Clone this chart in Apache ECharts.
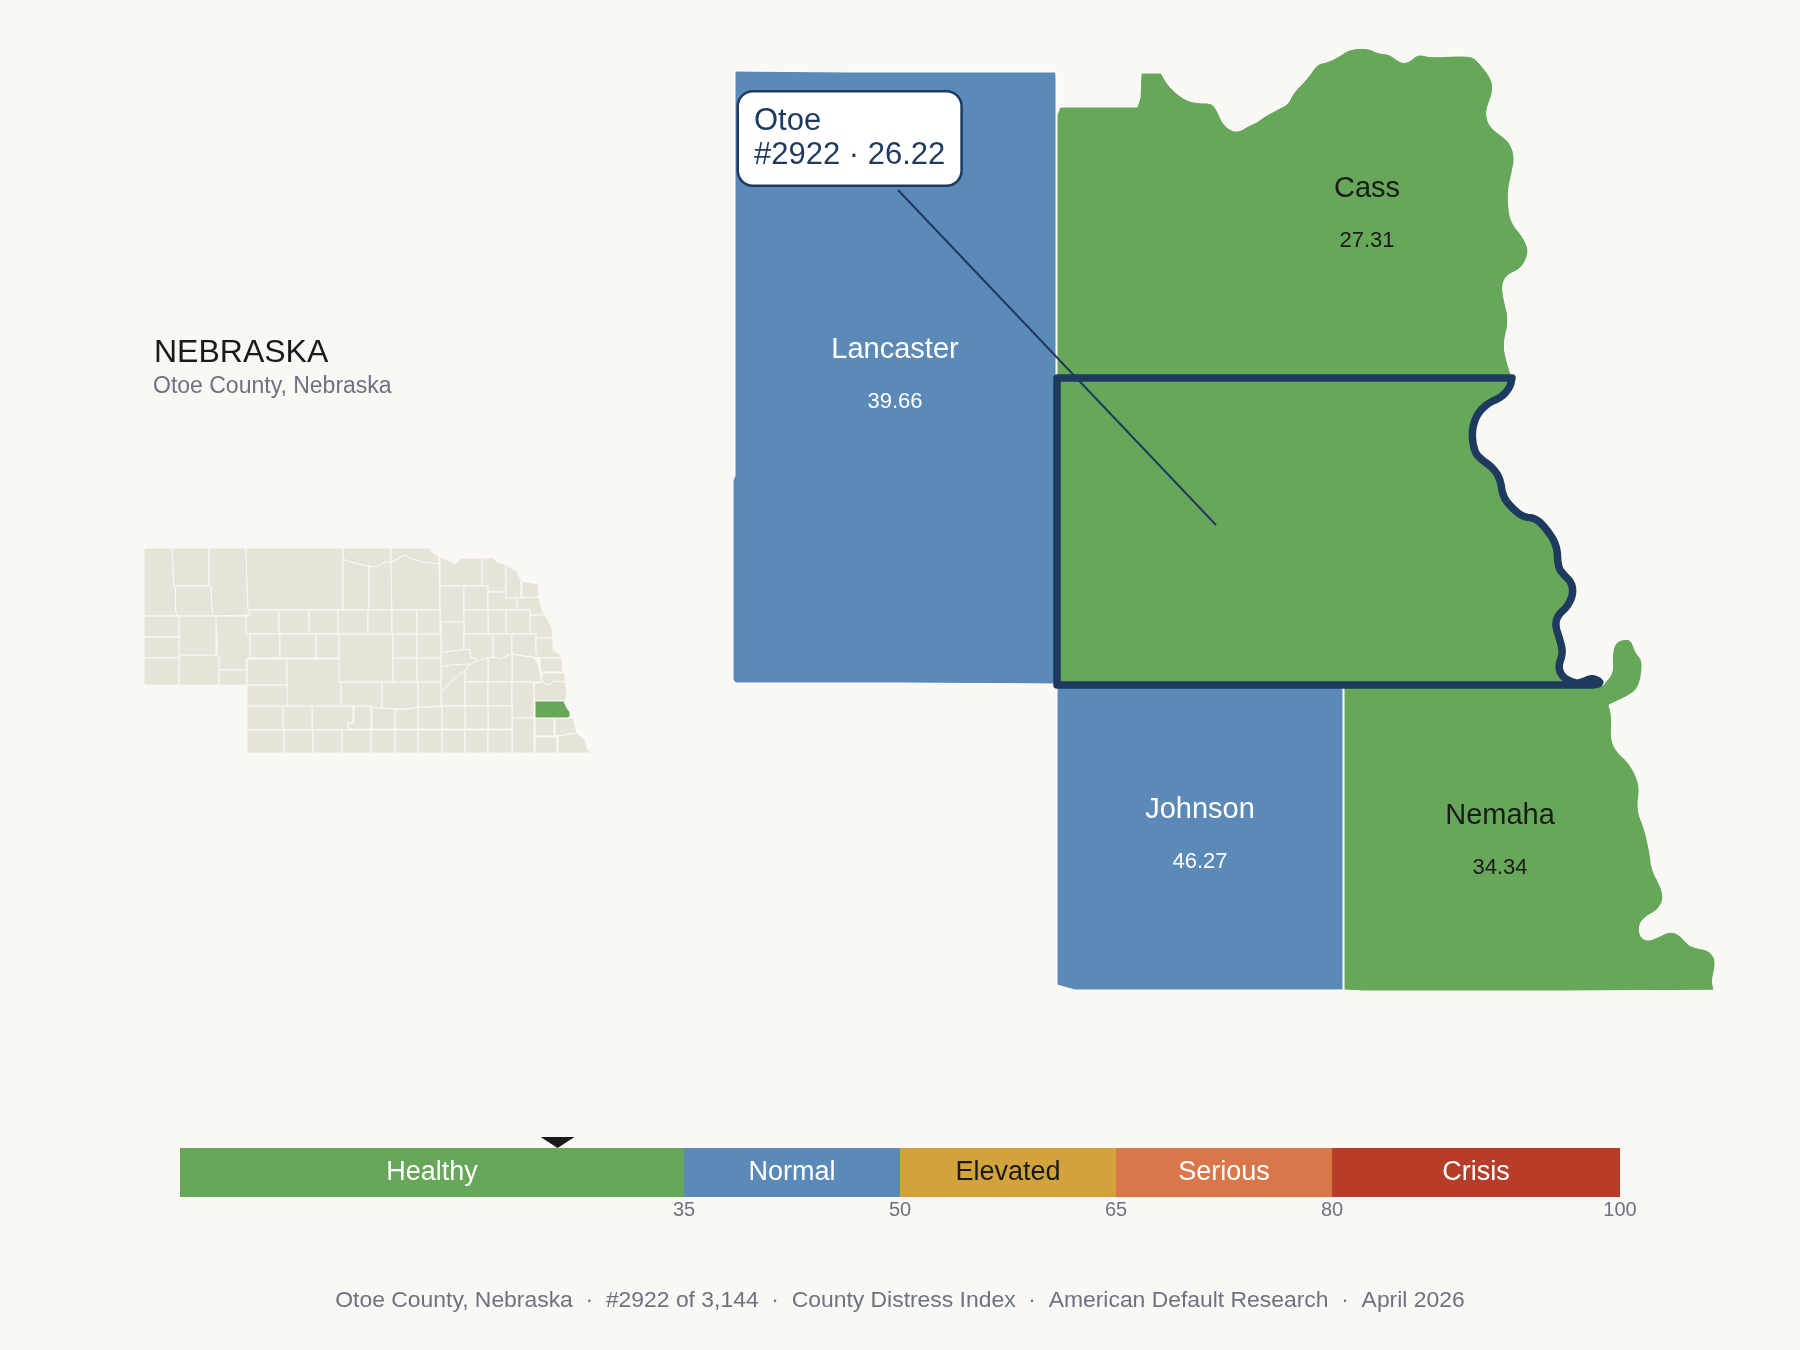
<!DOCTYPE html>
<html>
<head>
<meta charset="utf-8">
<title>Otoe County, Nebraska</title>
<script src="https://cdn.jsdelivr.net/npm/echarts@6/dist/echarts.min.js"></script>
<style>
  html, body { margin: 0; background: #FAF8F5; }
  #main { width: 1800px; height: 1350px; }
</style>
</head>
<body>
<div id="main"></div>
<script>
const GREEN = '#66A75A', BLUE = '#5B89B8', GOLD = '#D1A33A', ORANGE = '#D9774A', RED = '#B73D2A';
const NAVY = '#1E3A5F', INK = '#1A1A1A', GREY = '#6B7280', PAPER = '#FAF8F5', SAND = '#E8E3D8';
const FONT = '"Liberation Sans", Arial, sans-serif';

// index bands
const bandNames = ['Healthy', 'Normal', 'Elevated', 'Serious', 'Crisis'];
const bandSpans = [35, 15, 15, 15, 20];
const bandTicks = [35, 50, 65, 80, 100];
const bandColors = [GREEN, BLUE, GOLD, ORANGE, RED];
const bandTextColors = ['#fff', '#fff', INK, '#fff', '#fff'];

// selected county and its neighbours
const countyNames = ['Lancaster', 'Cass', 'Johnson', 'Nemaha', 'Otoe'];
const countyScores = [39.66, 27.31, 46.27, 34.34, 26.22];
const countyLabelAt = [[895, 376], [1367, 215], [1200, 836], [1500, 842]];
const otoeRank = 2922;
const calloutFrom = [1216, 525];
const calloutTo = [898, 190];
const calloutBoxAt = [739, 138.5];

// outlines, traced in map units; the river banks get rounded off below
const cassBank = [[1161, 73], [1168, 85], [1177, 94], [1188, 101], [1200, 103], [1212, 103], [1218, 112], [1223, 124], [1232, 131], [1240, 131], [1248, 126], [1257, 122], [1265, 116], [1280, 108], [1288, 104], [1293, 93], [1307, 79], [1317, 64], [1327, 62], [1338, 57], [1348, 50], [1360, 48], [1370, 49], [1378, 53], [1389, 54], [1397, 60], [1403, 63], [1410, 61], [1417, 55], [1423, 55], [1430, 57], [1453, 56], [1470, 56], [1477, 60], [1492, 79], [1493, 92], [1488, 105], [1486, 115], [1490, 127], [1502, 136], [1510, 143], [1515, 157], [1512, 173], [1508, 190], [1509, 213], [1513, 225], [1523, 237], [1529, 250], [1525, 263], [1517, 271], [1507, 275], [1502, 285], [1504, 300], [1509, 320], [1504, 342], [1505, 355], [1512, 378]];
const otoeBank = [[1512, 378], [1510, 387], [1502, 397], [1488, 403], [1478, 413], [1473, 425], [1472, 438], [1475, 453], [1482, 460], [1492, 467], [1500, 478], [1503, 497], [1512, 508], [1523, 517], [1535, 518], [1545, 527], [1557, 545], [1558, 567], [1563, 574], [1572, 583], [1573, 595], [1567, 607], [1558, 615], [1555, 625], [1560, 640], [1563, 653], [1558, 667], [1563, 678], [1577, 684], [1587, 680], [1593, 678], [1602, 683], [1593, 685]];
const nemahaHook = [[1603, 685], [1613, 673], [1612, 658], [1614, 645], [1620, 640], [1628, 639], [1632, 642], [1636, 653], [1642, 660], [1642, 673], [1638, 688], [1630, 695], [1609, 705]];
const nemahaBank = [[1609, 705], [1612, 717], [1611, 740], [1617, 752], [1627, 761], [1635, 773], [1640, 788], [1637, 810], [1645, 830], [1650, 853], [1652, 870], [1660, 885], [1664, 898], [1658, 910], [1645, 917], [1639, 925], [1640, 937], [1648, 941], [1658, 937], [1670, 931], [1680, 935], [1688, 945], [1697, 948], [1708, 950], [1715, 958], [1715, 968], [1712, 980], [1714, 991]];

// corner cutting, keeps the two end points of a run
function roundRun(run, passes) {
  let pts = run;
  for (let p = 0; p < passes; p++) {
    const next = [pts[0]];
    for (let i = 0; i < pts.length - 1; i++) {
      const a = pts[i], b = pts[i + 1];
      next.push([a[0] * 0.75 + b[0] * 0.25, a[1] * 0.75 + b[1] * 0.25]);
      next.push([a[0] * 0.25 + b[0] * 0.75, a[1] * 0.25 + b[1] * 0.75]);
    }
    next.push(pts[pts.length - 1]);
    pts = next;
  }
  return pts;
}

const lancasterRing = [[735, 71], [850, 72], [1055, 72], [1056, 75], [1056, 684], [900, 683], [736, 683], [733, 680], [733, 480], [735, 476]];
const cassRing = [[1060, 107], [1137, 107], [1140, 98], [1141, 73]].concat(roundRun(cassBank, 2), [[1057, 378], [1057, 115]]);
const johnsonRing = [[1057, 685], [1343, 685], [1343, 990], [1075, 990], [1057, 985]];
const nemahaRing = [[1344, 685]].concat(roundRun(nemahaHook, 2), roundRun(nemahaBank, 2), [[1563, 991], [1363, 991], [1344, 990]]);
const otoeRing = [[1057, 378]].concat(roundRun(otoeBank, 2), [[1057, 685]]);
const areaRings = [lancasterRing, cassRing, johnsonRing, nemahaRing, otoeRing];

const box = (x0, y0, x1, y1) => [[x0, y0], [x1, y0], [x1, y1], [x0, y1]];

// state inset, all 93 counties
const stateCounties = [
  ['Sioux', [[144, 548], [172, 548], [173, 564], [173.5, 586], [175.5, 586], [175.5, 610], [177.5, 616], [144, 616]]],
  ['Dawes', [[172, 548], [209, 548], [209, 586], [173.5, 586], [173, 564]]],
  ['Box Butte', [[175.5, 586], [211, 586], [212, 610], [213.5, 616], [177.5, 616], [175.5, 610]]],
  ['Sheridan', [[209, 548], [246, 548], [246.5, 563], [247, 586], [248, 610], [249.5, 610], [249.5, 615], [213.5, 616], [212, 610], [211, 586], [209, 586]]],
  ['Cherry', [[246, 548], [343, 548], [343, 610], [248, 610], [247, 586], [246.5, 563]]],
  ['Keya Paha', [[343, 548], [390, 548], [391, 562], [383, 563], [377, 567], [367, 566], [350, 562], [343, 559]]],
  ['Boyd', [[391, 548], [430, 548], [432, 552], [439, 557], [439, 564], [423, 562], [412, 559], [405, 555], [391, 562]]],
  ['Brown', [[343, 559], [350, 562], [367, 566], [369, 566], [369, 610], [343, 610]]],
  ['Rock', [[369, 566], [377, 567], [383, 563], [391, 562], [392, 610], [369, 610]]],
  ['Holt', [[391, 562], [405, 555], [412, 559], [423, 562], [439, 564], [440, 610], [392, 610]]],
  ['Knox', [[440, 557], [448, 560], [455, 564], [462, 558], [482, 558], [482, 586], [440, 586]]],
  ['Cedar', [[482, 558], [493, 558], [497, 562], [506, 565], [506, 592], [488, 592], [488, 586], [482, 586]]],
  ['Dixon', [[506, 565], [517, 572], [521, 580], [521, 598], [506, 598]]],
  ['Dakota', [[522, 581], [532, 583], [538, 584], [539, 597], [522, 598]]],
  ['Antelope', box(440, 586, 464, 622)], ['Pierce', box(464, 586, 488, 610)],
  ['Wayne', [[488, 592], [506, 592], [506, 598], [517, 598], [517, 610], [488, 610]]],
  ['Thurston', [[517, 598], [539, 597], [542, 610], [544, 615], [530, 615], [530, 610], [517, 610]]],
  ['Burt', [[530, 615], [544, 615], [547, 618], [552, 628], [553, 638], [536, 638], [536, 634], [530, 634]]],
  ['Cuming', box(506, 610, 530, 634)], ['Stanton', box(488, 610, 506, 634)], ['Madison', box(464, 610, 488, 634)],
  ['Boone', [[441, 622], [464, 622], [464, 650], [452, 651], [441, 653]]],
  ['Nance', [[441, 653], [452, 651], [470, 649], [471, 658], [477, 659], [477, 663], [470, 664], [452, 665], [441, 667]]],
  ['Merrick', [[441, 667], [452, 665], [470, 664], [464, 672], [453, 680], [441, 693]]],
  ['Platte', [[464, 634], [493, 634], [493, 657], [483, 659], [477, 663], [477, 659], [471, 658], [470, 649], [464, 650]]],
  ['Colfax', [[493, 634], [512, 634], [512, 654], [500, 659], [493, 657]]],
  ['Dodge', [[512, 634], [536, 634], [536, 654], [540, 658], [533, 657], [523, 656], [512, 654]]],
  ['Washington', [[536, 638], [553, 638], [553, 650], [560, 655], [562, 658], [540, 658], [536, 654]]],
  ['Douglas', [[540, 658], [562, 658], [563, 672], [541, 672]]],
  ['Sarpy', [[542, 673], [565, 673], [565, 682], [555, 681], [548, 685], [542, 682]]],
  ['Saunders', [[512, 654], [523, 656], [533, 657], [538, 663], [540, 673], [542, 682], [512, 682]]],
  ['Butler', [[488, 658], [493, 657], [500, 659], [512, 654], [512, 682], [488, 682]]],
  ['Polk', [[465, 670], [472, 663], [483, 659], [488, 658], [488, 682], [465, 682]]],
  ['Hamilton', [[441, 693], [453, 680], [465, 670], [465, 706], [441, 706]]],
  ['York', box(465, 682, 488, 706)], ['Seward', box(488, 682, 512, 706)], ['Lancaster', box(512, 682, 534, 718)],
  ['Cass', [[534, 684], [542, 682], [548, 685], [555, 681], [565, 682], [567, 693], [565, 701], [534, 701]]],
  ['Johnson', box(535, 718, 554, 736)],
  ['Nemaha', [[555, 718], [573, 718], [577, 733], [555, 736]]],
  ['Pawnee', box(535, 737, 557, 753)],
  ['Richardson', [[558, 736], [577, 733], [585, 740], [588, 750], [593, 753], [558, 753]]],
  ['Gage', box(512, 718, 534, 753)], ['Saline', box(488, 706, 512, 729)], ['Fillmore', box(465, 706, 488, 729)],
  ['Clay', box(442, 706, 465, 729)], ['Adams', box(418, 707, 442, 729)],
  ['Kearney', [[395, 709], [410, 709], [418, 707], [418, 729], [395, 729]]],
  ['Phelps', [[372, 707], [382, 708], [395, 709], [395, 729], [372, 729]]],
  ['Gosper', [[354, 706], [368, 706], [371, 707], [371, 729], [348, 729], [348, 724], [354, 723]]],
  ['Frontier', [[312, 706], [353, 706], [353, 723], [348, 723], [348, 730], [312, 730]]],
  ['Hayes', box(283, 706, 312, 730)], ['Chase', box(247, 706, 283, 730)], ['Dundy', box(247, 730, 284, 753)],
  ['Hitchcock', box(284, 730, 313, 753)], ['Red Willow', box(313, 730, 342, 753)], ['Furnas', box(342, 730, 371, 753)],
  ['Harlan', box(371, 730, 395, 753)], ['Franklin', box(395, 730, 418, 753)], ['Webster', box(418, 730, 442, 753)],
  ['Nuckolls', box(442, 730, 465, 753)], ['Thayer', box(465, 730, 488, 753)], ['Jefferson', box(488, 730, 512, 753)],
  ['Perkins', box(247, 685, 288, 706)], ['Keith', box(247, 659, 287, 685)], ['Lincoln', box(287, 659, 341, 706)],
  ['Dawson', [[341, 682], [382, 682], [382, 708], [372, 707], [368, 706], [341, 706]]],
  ['Buffalo', [[382, 682], [418, 682], [418, 707], [410, 709], [395, 709], [382, 708]]],
  ['Hall', [[418, 682], [441, 682], [441, 706], [418, 707]]],
  ['Custer', box(339, 634, 393, 682)], ['Sherman', box(393, 658, 417, 682)], ['Howard', box(417, 658, 441, 682)],
  ['Valley', box(393, 634, 417, 658)], ['Greeley', box(417, 634, 441, 658)],
  ['Grant', [[249.5, 610], [279, 610], [279, 634], [246, 634], [246, 616], [249.5, 615]]],
  ['Hooker', box(279, 610, 309, 634)], ['Thomas', box(309, 610, 338, 634)],
  ['Blaine', box(338, 610, 368, 634)], ['Loup', box(368, 610, 392, 634)], ['Garfield', box(392, 610, 417, 634)],
  ['Wheeler', box(417, 610, 440, 634)], ['Arthur', box(250, 634, 280, 658)], ['McPherson', box(280, 634, 316, 658)],
  ['Logan', box(316, 634, 339, 658)],
  ['Garden', [[215, 616], [246, 616], [246, 634], [250, 634], [250, 658.5], [246.5, 658.5], [246.5, 670], [219, 670], [219, 658], [217, 655], [217, 635], [216, 634]]],
  ['Deuel', box(219, 670, 246.5, 685)],
  ['Cheyenne', [[179, 655], [217, 655], [219, 658], [219, 685], [179, 685]]],
  ['Morrill', box(179, 616, 216, 655)],
  ['Scotts Bluff', box(144, 616, 179, 637)], ['Banner', box(144, 637, 179, 658)], ['Kimball', box(144, 658, 179, 685)],
  ['Otoe', [[535, 701], [564, 701], [565, 704], [567, 708], [570, 712], [570, 717], [567, 718], [535, 718]]]
];

function toGeoJson(entries) {
  return {
    type: 'FeatureCollection',
    features: entries.map(([name, ring]) => ({
      type: 'Feature',
      properties: { name: name },
      geometry: { type: 'Polygon', coordinates: [ring.concat([ring[0]])] }
    }))
  };
}

echarts.registerMap('otoeArea', toGeoJson(countyNames.map((name, i) => [name, areaRings[i]])));
echarts.registerMap('nebraska', toGeoJson(stateCounties));

// map units already run left to right, top to bottom
const flatProjection = { project: p => p, unproject: p => p };
const otoeScore = countyScores[countyNames.indexOf('Otoe')];

const myChart = echarts.init(document.getElementById('main'));

const bandSeries = bandNames.map((name, i) => ({
  name: name,
  type: 'bar',
  stack: 'bands',
  barWidth: '100%',
  silent: true,
  itemStyle: { color: bandColors[i] },
  label: { show: true, position: 'inside', formatter: '{a}', fontFamily: FONT, fontSize: 27, color: bandTextColors[i] },
  data: [bandSpans[i]]
}));

const option = {
  backgroundColor: PAPER,
  animation: false,
  textStyle: { fontFamily: FONT },
  title: [
    { text: 'NEBRASKA', left: 149, top: 332, textStyle: { fontFamily: FONT, fontSize: 32, fontWeight: 'normal', color: INK } },
    { text: 'Otoe County, Nebraska', left: 148, top: 370, textStyle: { fontFamily: FONT, fontSize: 23, fontWeight: 'normal', color: GREY } },
    {
      text: 'Otoe County, Nebraska  \u00b7  #' + otoeRank + ' of 3,144  \u00b7  County Distress Index  \u00b7  American Default Research  \u00b7  April 2026',
      left: 'center', top: 1284,
      textStyle: { fontFamily: FONT, fontSize: 22.9, fontWeight: 'normal', color: GREY }
    }
  ],
  visualMap: {
    show: false,
    type: 'piecewise',
    seriesIndex: [0, 1],
    pieces: bandNames.map((name, i) => ({
      min: i === 0 ? 0 : bandTicks[i - 1],
      max: bandTicks[i],
      color: bandColors[i]
    }))
  },
  geo: [
    {
      map: 'otoeArea',
      projection: flatProjection,
      boundingCoords: [[733, 48], [1715, 991]],
      left: 733, top: 48, width: 982, height: 943,
      aspectScale: 1,
      silent: true,
      itemStyle: { areaColor: SAND, borderColor: '#FFFFFF', borderWidth: 1 },
      label: { show: false },
      emphasis: { disabled: true },
      regions: [{ name: 'Otoe', itemStyle: { borderColor: NAVY, borderWidth: 7.5, borderJoin: 'round' } }]
    },
    {
      map: 'nebraska',
      projection: flatProjection,
      boundingCoords: [[144, 548], [593, 753]],
      left: 144, top: 548, width: 449, height: 205,
      aspectScale: 1,
      silent: true,
      itemStyle: { areaColor: SAND, borderColor: PAPER, borderWidth: 1 },
      label: { show: false },
      emphasis: { disabled: true }
    }
  ],
  grid: { left: 180, top: 1148, width: 1440, height: 49 },
  xAxis: {
    type: 'value',
    min: 0,
    max: 100,
    splitLine: { show: false },
    axisLine: { show: false },
    axisTick: { show: false },
    axisLabel: { customValues: bandTicks, margin: 3, fontFamily: FONT, fontSize: 20, color: GREY }
  },
  yAxis: { type: 'category', data: ['index'], show: false },
  series: [
    {
      type: 'map', geoIndex: 0,
      data: countyNames.map((name, i) => ({ name: name, value: countyScores[i] }))
    },
    {
      type: 'map', geoIndex: 1,
      data: [{ name: 'Otoe', value: otoeScore }]
    },
    ...bandSeries,
    {
      // pointer above the band bar
      type: 'scatter',
      xAxisIndex: 0, yAxisIndex: 0,
      silent: true,
      symbol: 'triangle',
      symbolRotate: 180,
      symbolSize: [34, 11],
      symbolOffset: [0, -30],
      itemStyle: { color: INK, opacity: 1 },
      z: 5,
      data: [[otoeScore, 'index']]
    },
    {
      // neighbour labels
      type: 'scatter',
      coordinateSystem: 'geo', geoIndex: 0,
      silent: true,
      symbolSize: 0,
      itemStyle: { opacity: 1 },
      z: 6,
      data: countyLabelAt.map((at, i) => ({
        name: countyNames[i],
        value: at.concat(countyScores[i]),
        label: {
          show: true,
          position: 'inside',
          formatter: '{n|' + countyNames[i] + '}\n{v|' + countyScores[i].toFixed(2) + '}',
          rich: {
            n: { fontFamily: FONT, fontSize: 29, lineHeight: 52, align: 'center', color: countyScores[i] >= 35 ? '#fff' : INK },
            v: { fontFamily: FONT, fontSize: 22, lineHeight: 52, align: 'center', color: countyScores[i] >= 35 ? '#fff' : INK }
          }
        }
      }))
    },
    {
      type: 'lines',
      coordinateSystem: 'geo', geoIndex: 0,
      silent: true,
      z: 7,
      lineStyle: { color: NAVY, width: 2, opacity: 1, curveness: 0 },
      data: [{ coords: [calloutFrom, calloutTo] }]
    },
    {
      type: 'scatter',
      coordinateSystem: 'geo', geoIndex: 0,
      silent: true,
      symbolSize: 0,
      itemStyle: { opacity: 1 },
      z: 8,
      data: [{
        value: calloutBoxAt,
        label: {
          show: true,
          position: 'right',
          distance: 0,
          formatter: 'Otoe\n#' + otoeRank + ' \u00b7 ' + otoeScore.toFixed(2),
          fontFamily: FONT,
          fontSize: 31,
          lineHeight: 34,
          align: 'left',
          color: NAVY,
          backgroundColor: '#FFFFFF',
          borderColor: NAVY,
          borderWidth: 2.5,
          borderRadius: 14,
          padding: [12, 15, 12, 15]
        }
      }]
    }
  ]
};

myChart.setOption(option);
</script>
</body>
</html>
